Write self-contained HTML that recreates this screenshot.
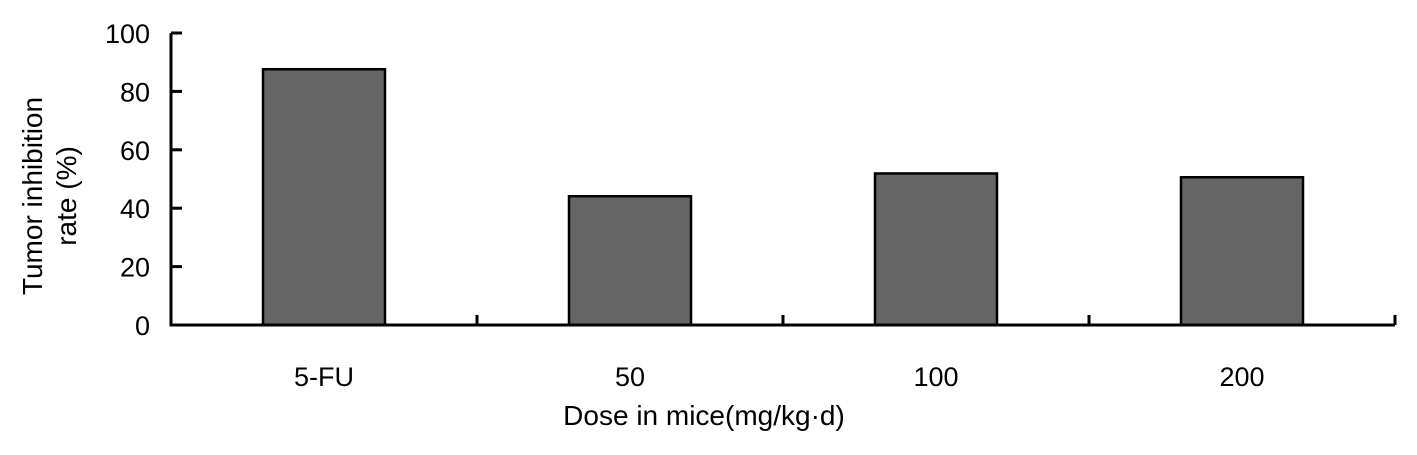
<!DOCTYPE html>
<html><head><meta charset="utf-8"><style>
body{margin:0;background:#fff;}
svg{display:block;font-family:"Liberation Sans",Arial,sans-serif;}
</style></head><body>
<svg id="chart" width="1417" height="455" viewBox="0 0 1417 455">
<g id="plot"></g>
<text transform="translate(0,196) rotate(-90)" text-anchor="middle" font-size="28" fill="#000"><tspan x="0" y="42">Tumor inhibition</tspan><tspan x="0" y="76">rate (%)</tspan></text>
<text x="704" y="425" text-anchor="middle" font-size="28" fill="#000">Dose in mice(mg/kg·d)</text>
</svg>
<script>
const categories = ["5-FU", "50", "100", "200"];
const values = [87.6, 44.1, 51.9, 50.6];
const yTicks = [0, 20, 40, 60, 80, 100];

const NS = "http://www.w3.org/2000/svg";
const g = document.getElementById("plot");
const x0 = 171, x1 = 1395, yBase = 325, yTop = 33;
const band = (x1 - x0) / categories.length;
const yScale = v => yBase - (v / 100) * (yBase - yTop);
const xCenter = i => x0 + band * (i + 0.5);
function mk(tag, attrs){const e=document.createElementNS(NS,tag);for(const k in attrs)e.setAttribute(k,attrs[k]);g.appendChild(e);return e;}

values.forEach((v,i)=>{
  const w = 122;
  const r = mk("rect",{x:xCenter(i)-w/2,y:yScale(v),width:w,height:yBase-yScale(v),fill:"#666",stroke:"#000","stroke-width":2.5});
  
  
  const t = mk("text",{x:xCenter(i),y:386,"text-anchor":"middle","font-size":27,fill:"#000"});
  t.textContent = categories[i];
  
  
});
yTicks.forEach(v=>{
  const y = yScale(v);
  const l = mk("line",{x1:x0,x2:x0+11,y1:y,y2:y,stroke:"#000","stroke-width":3});
  
  
  const t = mk("text",{x:150,y:y+10,"text-anchor":"end","font-size":27,fill:"#000"});
  t.textContent = v;
  
  
});
for(let i=1;i<=categories.length;i++){
  const x = x0 + band*i;
  const l = mk("line",{x1:x,x2:x,y1:yBase-10,y2:yBase,stroke:"#000","stroke-width":3});
  
  
}
const ya = mk("line",{x1:x0,x2:x0,y1:yTop,y2:yBase+1.5,stroke:"#000","stroke-width":3});


const xa = mk("line",{x1:x0-1.5,x2:x1,y1:yBase,y2:yBase,stroke:"#000","stroke-width":3});


</script>
</body></html>
